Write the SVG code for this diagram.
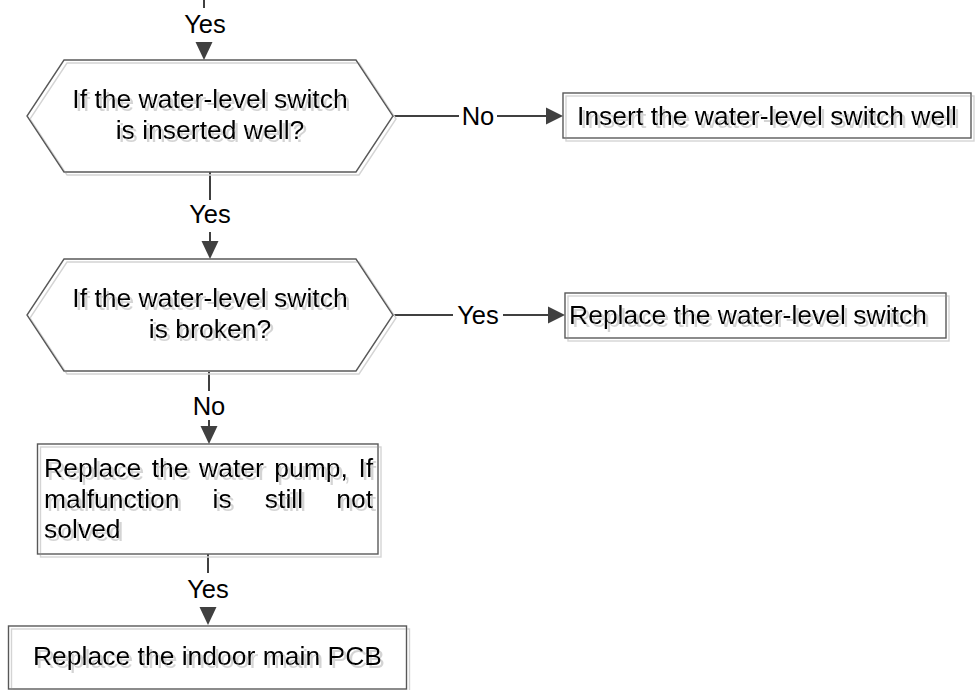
<svg xmlns="http://www.w3.org/2000/svg" width="977" height="690" viewBox="0 0 977 690">
<style>
.shape{fill:none;stroke:#595959;stroke-width:1.4}
.t{font-family:"Liberation Sans",Arial,sans-serif;font-size:26.5px;fill:#000}
.c{text-anchor:middle}
.lbl{font-family:"Liberation Sans",Arial,sans-serif;font-size:25.5px;fill:#000;text-anchor:middle}
.ln{stroke:#404040;stroke-width:2;fill:none}
.ah{fill:#404040}
</style>
<defs>
<filter id="sh" x="-5%" y="-5%" width="115%" height="130%">
<feOffset in="SourceAlpha" dx="3" dy="3" result="o"/>
<feFlood flood-color="#d4d4d4"/>
<feComposite in2="o" operator="in" result="s"/>
<feMerge><feMergeNode in="s"/><feMergeNode in="SourceGraphic"/></feMerge>
</filter>
</defs>
<rect width="977" height="690" fill="#fff"/>
<g id="connectors">
<line class="ln" x1="204" y1="0" x2="204" y2="8"/>
<text class="lbl" x="205" y="33">Yes</text>
<polygon class="ah" points="195.5,42 212.5,42 204,60"/>
<line class="ln" x1="210" y1="172" x2="210" y2="200"/>
<text class="lbl" x="210" y="223">Yes</text>
<line class="ln" x1="210" y1="232" x2="210" y2="242"/>
<polygon class="ah" points="201.5,241 218.5,241 210,259"/>
<line class="ln" x1="393" y1="116" x2="459" y2="116"/>
<text class="lbl" x="478" y="125">No</text>
<line class="ln" x1="497" y1="116" x2="548" y2="116"/>
<polygon class="ah" points="546,107.5 546,124.5 563,116"/>
<line class="ln" x1="393" y1="315" x2="453" y2="315"/>
<text class="lbl" x="478" y="324">Yes</text>
<line class="ln" x1="503" y1="315" x2="550" y2="315"/>
<polygon class="ah" points="548,306.5 548,323.5 565,315"/>
<line class="ln" x1="209" y1="372" x2="209" y2="391"/>
<text class="lbl" x="209" y="415">No</text>
<line class="ln" x1="209" y1="420" x2="209" y2="428"/>
<polygon class="ah" points="200.5,426 217.5,426 209,444"/>
<line class="ln" x1="208" y1="554" x2="208" y2="573"/>
<text class="lbl" x="208" y="598">Yes</text>
<polygon class="ah" points="199.5,607 216.5,607 208,625"/>
</g>
<g id="d1" filter="url(#sh)">
<polygon class="shape" points="64,60 356,60 393,116 356,172 64,172 27,116"/>
<text class="t c" x="210" y="108">If the water-level switch</text>
<text class="t c" x="210" y="139">is inserted well?</text>
</g>
<g id="b1" filter="url(#sh)">
<rect class="shape" x="563" y="93" width="408" height="45"/>
<text class="t c" x="767" y="125">Insert the water-level switch well</text>
</g>
<g id="d2" filter="url(#sh)">
<polygon class="shape" points="64,259 356,259 393,315 356,371 64,371 27,315"/>
<text class="t c" x="210" y="307">If the water-level switch</text>
<text class="t c" x="210" y="338">is broken?</text>
</g>
<g id="b2" filter="url(#sh)">
<rect class="shape" x="565" y="293" width="381" height="45"/>
<text class="t" x="569" y="323.5">Replace the water-level switch</text>
</g>
<g id="b3" filter="url(#sh)">
<rect class="shape" x="37.5" y="444" width="340.5" height="110"/>
<text class="t" y="477"><tspan x="44">Replace</tspan><tspan x="151.7">the</tspan><tspan x="199">water</tspan><tspan x="274.3">pump,</tspan><tspan x="358.4">If</tspan></text>
<text class="t" y="507.5"><tspan x="44">malfunction</tspan><tspan x="212.6">is</tspan><tspan x="264.8">still</tspan><tspan x="336.2">not</tspan></text>
<text class="t" x="44" y="538">solved</text>
</g>
<g id="b4" filter="url(#sh)">
<rect class="shape" x="8.5" y="626" width="398" height="63"/>
<text class="t c" x="207.5" y="665">Replace the indoor main PCB</text>
</g>
</svg>
